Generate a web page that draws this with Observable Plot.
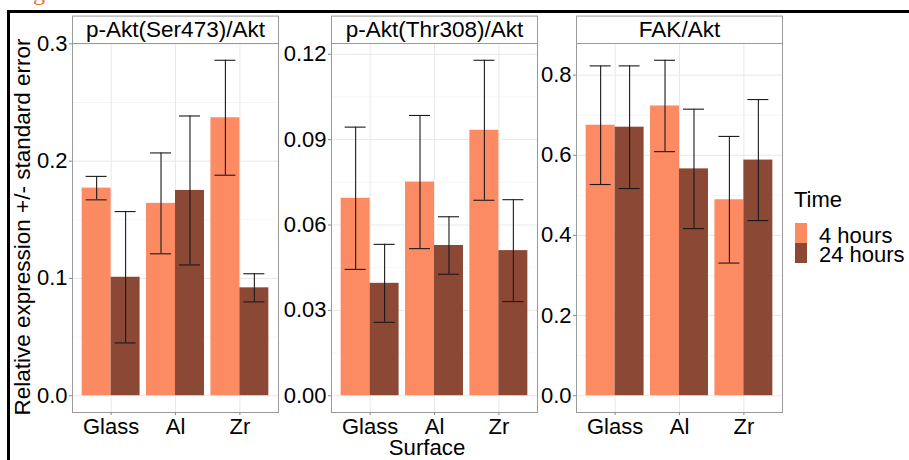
<!DOCTYPE html>
<html>
<head>
<meta charset="utf-8">
<script src="https://cdn.jsdelivr.net/npm/d3@7"></script>
<script src="https://cdn.jsdelivr.net/npm/@observablehq/plot@0.6"></script>
<style>
  body { margin: 0; background: #fff; }
  #wrap { position: relative; width: 909px; height: 460px; overflow: hidden; background: #fff;
          font-family: "Liberation Sans", Arial, sans-serif; color: #000; }
  .abs { position: absolute; white-space: nowrap; }
</style>
</head>
<body>
<div id="wrap"></div>
<script>
// ---- data ----
const surfaces = ["Glass", "Al", "Zr"];
const times = ["4 hours", "24 hours"];
const panelTitles = ["p-Akt(Ser473)/Akt", "p-Akt(Thr308)/Akt", "FAK/Akt"];

const ser473_4h     = [0.177, 0.164, 0.237];
const ser473_4h_se  = [0.010, 0.043, 0.049];
const ser473_24h    = [0.101, 0.175, 0.092];
const ser473_24h_se = [0.056, 0.0635, 0.012];

const thr308_4h     = [0.0694, 0.0751, 0.0933];
const thr308_4h_se  = [0.0250, 0.0234, 0.0246];
const thr308_24h    = [0.0395, 0.0528, 0.0510];
const thr308_24h_se = [0.0137, 0.0101, 0.0179];

const fak_4h     = [0.675, 0.723, 0.489];
const fak_4h_se  = [0.148, 0.114, 0.158];
const fak_24h    = [0.670, 0.566, 0.588];
const fak_24h_se = [0.153, 0.149, 0.151];

const ser473Ticks = [0, 0.1, 0.2, 0.3];
const thr308Ticks = [0, 0.03, 0.06, 0.09, 0.12];
const fakTicks    = [0, 0.2, 0.4, 0.6, 0.8];

const yTitle = "Relative expression +/- standard error";
const xTitle = "Surface";
const legendTitle = "Time";
const figLabel = "Figure 3";

const colors = ["#FC8A63", "#8A4835"];

// ---- build ----
const panels = [
  {title: panelTitles[0], m4: ser473_4h, s4: ser473_4h_se, m24: ser473_24h, s24: ser473_24h_se, ticks: ser473Ticks, digits: 1},
  {title: panelTitles[1], m4: thr308_4h, s4: thr308_4h_se, m24: thr308_24h, s24: thr308_24h_se, ticks: thr308Ticks, digits: 2},
  {title: panelTitles[2], m4: fak_4h, s4: fak_4h_se, m24: fak_24h, s24: fak_24h_se, ticks: fakTicks, digits: 1}
];

const wrap = document.getElementById("wrap");
const PW = 206, ML = 52, MR = 2, MT = 30, MB = 48, H = 447;
const innerH = H - MT - MB;
const panelLeft = [72.3, 330.7, 575.7];
const svgTop = 13;
const STRIP = 27.4;

function place(el, left, top) {
  el.style.position = "absolute";
  el.style.left = left + "px";
  el.style.top = top + "px";
  wrap.appendChild(el);
  return el;
}

panels.forEach((p, i) => {
  const rows = surfaces.flatMap((s, j) => [
    {surface: s, time: times[0], mean: p.m4[j], se: p.s4[j]},
    {surface: s, time: times[1], mean: p.m24[j], se: p.s24[j]}
  ]).map(d => ({...d, lo: d.mean - d.se, hi: d.mean + d.se}));
  const top = d3.max(rows, d => d.hi);
  const yDomain = [-0.05 * top, 1.05 * top];
  const minor = d3.pairs(p.ticks, (a, b) => (a + b) / 2);
  const fmt = d3.format("." + p.digits + "f");
  const common = {
    width: ML + PW + MR, height: H,
    marginLeft: ML, marginRight: MR, marginTop: MT, marginBottom: MB,
    style: {background: "transparent", overflow: "visible", fontFamily: "Liberation Sans, Arial, sans-serif", fontSize: "22px", color: "#000"}
  };

  const bg = Plot.plot({
    ...common,
    x: {type: "band", domain: surfaces, paddingInner: 0.1, paddingOuter: 0.15, round: false, axis: null},
    y: {domain: yDomain, axis: null},
    marks: [
      Plot.ruleY(minor, {stroke: "#f2f2f2", strokeWidth: 0.8}),
      Plot.ruleY(p.ticks, {stroke: "#e8e8e8", strokeWidth: 1}),
      Plot.ruleX(surfaces, {x: d => d, stroke: "#e8e8e8", strokeWidth: 1}),
      Plot.frame({stroke: "#9a9a9a", strokeWidth: 1}),
      Plot.frame({stroke: "#9a9a9a", strokeWidth: 1, fill: "white", insetTop: -STRIP, insetBottom: innerH}),
      Plot.text([p.title], {frameAnchor: "top", dy: -STRIP / 2, lineAnchor: "middle", fontSize: 22.5, fill: "#000"}),
      Plot.axisY({ticks: p.ticks, tickFormat: fmt, tickSize: 3, tickPadding: 2, stroke: "#888", fill: "#000", label: null, fontSize: 22}),
      Plot.axisX({tickSize: 3, tickPadding: 3, stroke: "#888", fill: "#000", label: null, fontSize: 22})
    ]
  });
  place(bg, panelLeft[i] - ML, svgTop);

  const fg = Plot.plot({
    ...common,
    fx: {domain: surfaces, paddingInner: 0.1, paddingOuter: 0.15, round: false, axis: null},
    x: {domain: times, padding: 0, round: false, axis: null},
    y: {domain: yDomain, axis: null},
    color: {domain: times, range: colors},
    marks: [
      Plot.barY(rows, {fx: "surface", x: "time", y: "mean", fill: "time"}),
      Plot.ruleX(rows, {fx: "surface", x: "time", y1: "lo", y2: "hi", stroke: "#1a1a1a", strokeWidth: 1.1}),
      Plot.tickY(rows, {fx: "surface", x: "time", y: "lo", stroke: "#1a1a1a", strokeWidth: 1.1, inset: 4}),
      Plot.tickY(rows, {fx: "surface", x: "time", y: "hi", stroke: "#1a1a1a", strokeWidth: 1.1, inset: 4})
    ]
  });
  place(fg, panelLeft[i] - ML, svgTop);
});

// ---- texts, legend, border ----
function textDiv(txt, size, lh, extra = {}) {
  const d = document.createElement("div");
  d.className = "abs";
  d.textContent = txt;
  d.style.fontSize = size + "px";
  d.style.lineHeight = lh + "px";
  Object.assign(d.style, extra);
  return d;
}

// partially visible figure label at the very top
place(textDiv(figLabel, 24, 24, {fontFamily: "'Liberation Serif', 'Times New Roman', serif", color: "#F26A1F"}), 13, -20);

// black frame lines of the figure
const bTop = document.createElement("div");
Object.assign(bTop.style, {width: "902px", height: "3px", background: "#000"});
place(bTop, 7, 10);
const bLeft = document.createElement("div");
Object.assign(bLeft.style, {width: "3px", height: "452px", background: "#000"});
place(bLeft, 7, 10);

// y-axis title (rotated)
const yt = textDiv(yTitle, 22.5, 22, {width: "440px", textAlign: "center", transform: "rotate(-90deg)"});
place(yt, 23.4 - 220, 226.5 - 11);

// x-axis title
const xt = textDiv(xTitle, 22.2, 18, {width: "200px", textAlign: "center"});
place(xt, 427 - 100, 439.4);

// legend
place(textDiv(legendTitle, 22, 22), 794, 189.4);
times.forEach((t, k) => {
  const sw = document.createElement("div");
  sw.style.width = "12px";
  sw.style.height = "19.5px";
  sw.style.background = colors[k];
  place(sw, 795, 223.3 + k * 20);
  place(textDiv(t, 22, 18), 819, 226.7 + k * 19);
});
</script>
</body>
</html>
